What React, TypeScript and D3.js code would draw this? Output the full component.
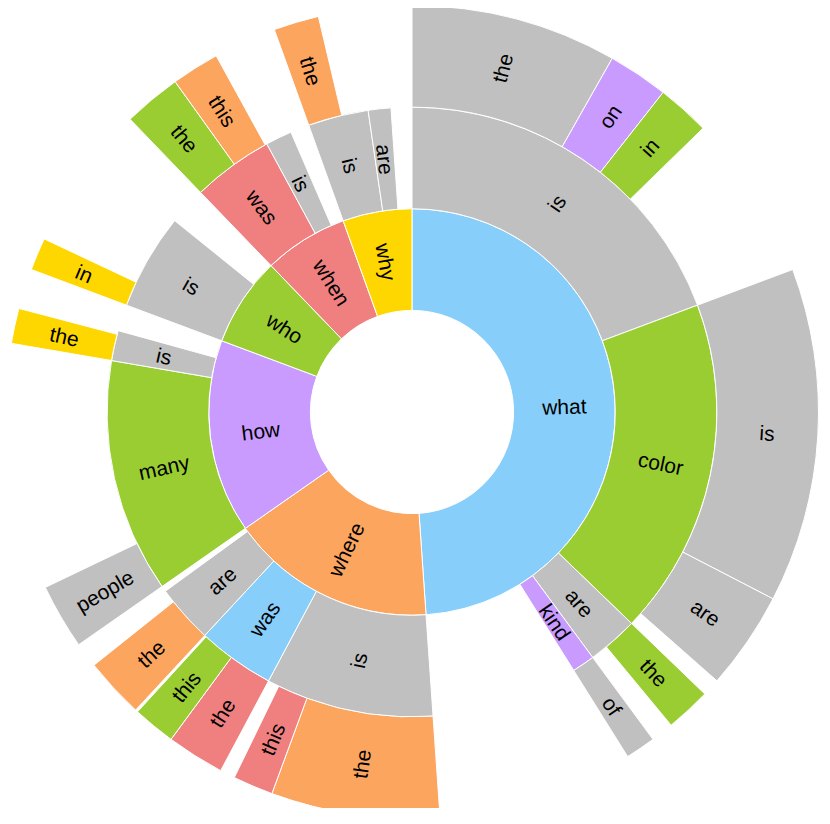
import React from "react";
import * as d3 from "d3";
import { useEffect, useRef } from "react";

// question prefixes (first words) and their share of all questions, in percent
// a node's share can be bigger than the sum of its children -> the rest is left empty
const questionPaths = [
  "what", "what/is", "what/is/the", "what/is/on", "what/is/in",
  "what/color", "what/color/is", "what/color/are",
  "what/are", "what/are/the",
  "what/kind", "what/kind/of",
  "where", "where/is", "where/is/the", "where/is/this",
  "where/was", "where/was/the", "where/was/this",
  "where/are", "where/are/the",
  "how", "how/many", "how/many/people", "how/is", "how/is/the",
  "who", "who/is", "who/is/in",
  "when", "when/was", "when/was/the", "when/was/this", "when/is",
  "why", "why/is", "why/is/the", "why/are",
];
const questionShare = [
  48.9, 19.3, 8.2, 2.4, 2.1,
  17.9, 13.3, 3.9,
  2.7, 1.8,
  1.2, 1.2,
  16.4, 8.9, 6.7, 1.6,
  4.1, 2.3, 1.7,
  3.1, 2.4,
  15.4, 12.4, 2.6, 1.6, 1.4,
  7.1, 5.1, 1.3,
  6.7, 4.3, 2.3, 1.9, 1.4,
  5.5, 3.2, 1.8, 1.2,
];

// fills
const GRAY = "#c0c0c0";
const BLUE = "#87cefa";
const GREEN = "#9acd32";
const ORANGE = "#fba55f";
const PURPLE = "#c99bff";
const RED = "#f08080";
const YELLOW = "#ffd700";
const fillByPath = {
  "what": BLUE, "what/is": GRAY, "what/is/the": GRAY, "what/is/on": PURPLE, "what/is/in": GREEN,
  "what/color": GREEN, "what/color/is": GRAY, "what/color/are": GRAY,
  "what/are": GRAY, "what/are/the": GREEN,
  "what/kind": PURPLE, "what/kind/of": GRAY,
  "where": ORANGE, "where/is": GRAY, "where/is/the": ORANGE, "where/is/this": RED,
  "where/was": BLUE, "where/was/the": RED, "where/was/this": GREEN,
  "where/are": GRAY, "where/are/the": ORANGE,
  "how": PURPLE, "how/many": GREEN, "how/many/people": GRAY, "how/is": GRAY, "how/is/the": YELLOW,
  "who": GREEN, "who/is": GRAY, "who/is/in": YELLOW,
  "when": RED, "when/was": RED, "when/was/the": GREEN, "when/was/this": ORANGE, "when/is": GRAY,
  "why": YELLOW, "why/is": GRAY, "why/is/the": ORANGE, "why/are": GRAY,
};

const WIDTH = 814;
const HEIGHT = 800;
const RADIUS = 406.5;

function buildTree() {
  const root = { name: "", path: "", total: 0, children: [] };
  questionPaths.forEach((p, i) => {
    const parts = p.split("/");
    let node = root;
    parts.forEach((part, k) => {
      let child = node.children.find((c) => c.name === part);
      if (!child) {
        child = { name: part, path: parts.slice(0, k + 1).join("/"), total: 0, children: [] };
        node.children.push(child);
      }
      node = child;
    });
    node.total = questionShare[i];
  });
  return root;
}

const Sunburst = () => {
  const ref = useRef(null);

  useEffect(() => {
    const svg = d3.select(ref.current);
    svg.selectAll("*").remove();

    const tree = buildTree();
    const hier = d3
      .hierarchy(tree)
      .sum((d) => (d.path === "" ? 0 : d.total - d3.sum(d.children, (c) => c.total)));

    const root = d3.partition().size([2 * Math.PI, RADIUS])(hier);

    const arc = d3
      .arc()
      .startAngle((d) => d.x0)
      .endAngle((d) => d.x1)
      .innerRadius((d) => d.y0)
      .outerRadius((d) => d.y1);

    const g = svg
      .append("g")
      .attr("transform", `translate(${WIDTH / 2 - 3},${RADIUS - 2.5})`);

    const nodes = root.descendants().filter((d) => d.depth > 0);

    g.selectAll("path")
      .data(nodes)
      .enter()
      .append("path")
      .attr("d", arc)
      .style("fill", (d) => fillByPath[d.data.path])
      .style("stroke", "#fff")
      .style("stroke-width", 1);

    g.selectAll("text")
      .data(nodes)
      .enter()
      .append("text")
      .attr("transform", (d) => {
        const x = ((d.x0 + d.x1) / 2) * (180 / Math.PI);
        const y = (d.y0 + d.y1) / 2;
        return `rotate(${x - 90}) translate(${y},0) rotate(${x < 180 ? 0 : 180})`;
      })
      .attr("dy", "0.35em")
      .attr("text-anchor", "middle")
      .style("font-family", "'Liberation Sans', Arial, sans-serif")
      .style("font-size", "21px")
      .style("fill", "#000")
      .text((d) => d.data.name);
  });

  return (
    <svg
      ref={ref}
      width={WIDTH}
      height={HEIGHT}
      style={{ display: "block", overflow: "visible" }}
    ></svg>
  );
};

export default function App() {
  return <Sunburst />;
}
